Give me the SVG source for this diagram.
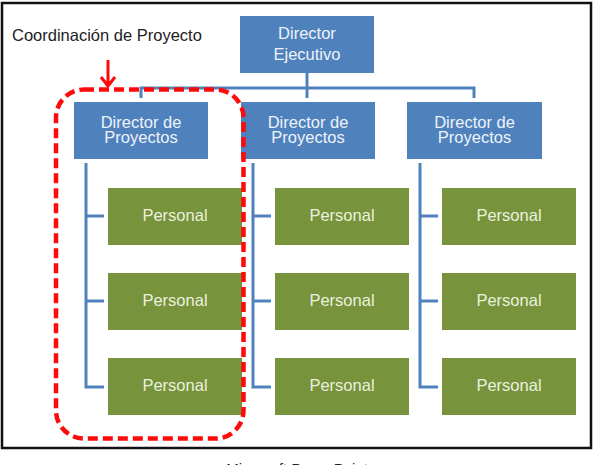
<svg xmlns="http://www.w3.org/2000/svg" width="599" height="465" viewBox="0 0 599 465">
<style>
.dir{fill:#4f81bd}
.per{fill:#77933c}
.t{font-family:"Liberation Sans",Arial,sans-serif;font-size:16.5px;text-anchor:middle}
.dt{fill:#eef3fa}
.pt{fill:#ebf1de}
.conn{fill:none;stroke:#4f81bd;stroke-width:3}
.red{fill:none;stroke:#ff0a0a;stroke-width:3}
</style>
<rect x="0" y="0" width="599" height="465" fill="#ffffff"/>
<rect x="2" y="3" width="589" height="445" fill="none" stroke="#111111" stroke-width="2.5"/>
<g id="connectors">
<path class="conn" d="M307,73 V98 M141,98 V88 H474 V98"/>
<path class="conn" d="M86,163 V387 H104 M86,216 H104 M86,301 H104"/>
<path class="conn" d="M253,163 V387 H271 M253,216 H271 M253,301 H271"/>
<path class="conn" d="M420,163 V387 H438 M420,216 H438 M420,301 H438"/>
</g>
<g id="director-ejecutivo">
<rect class="dir" x="240" y="16" width="134" height="57"/>
<text class="t dt" x="307" y="39">Director</text>
<text class="t dt" x="307" y="60">Ejecutivo</text>
</g>
<g id="director-proyectos-1">
<rect class="dir" x="74" y="102" width="134" height="57"/>
<text class="t dt" x="141" y="128">Director de</text>
<text class="t dt" x="141" y="143">Proyectos</text>
</g>
<g id="director-proyectos-2">
<rect class="dir" x="241" y="102" width="134" height="57"/>
<text class="t dt" x="308" y="128">Director de</text>
<text class="t dt" x="308" y="143">Proyectos</text>
</g>
<g id="director-proyectos-3">
<rect class="dir" x="407" y="102" width="135" height="57"/>
<text class="t dt" x="474.5" y="128">Director de</text>
<text class="t dt" x="474.5" y="143">Proyectos</text>
</g>
<g id="personal-1-1"><rect class="per" x="108" y="188" width="134" height="57"/><text class="t pt" x="175" y="221">Personal</text></g>
<g id="personal-1-2"><rect class="per" x="108" y="273" width="134" height="57"/><text class="t pt" x="175" y="306">Personal</text></g>
<g id="personal-1-3"><rect class="per" x="108" y="358" width="134" height="57"/><text class="t pt" x="175" y="391">Personal</text></g>
<g id="personal-2-1"><rect class="per" x="275" y="188" width="134" height="57"/><text class="t pt" x="342" y="221">Personal</text></g>
<g id="personal-2-2"><rect class="per" x="275" y="273" width="134" height="57"/><text class="t pt" x="342" y="306">Personal</text></g>
<g id="personal-2-3"><rect class="per" x="275" y="358" width="134" height="57"/><text class="t pt" x="342" y="391">Personal</text></g>
<g id="personal-3-1"><rect class="per" x="442" y="188" width="134" height="57"/><text class="t pt" x="509" y="221">Personal</text></g>
<g id="personal-3-2"><rect class="per" x="442" y="273" width="134" height="57"/><text class="t pt" x="509" y="306">Personal</text></g>
<g id="personal-3-3"><rect class="per" x="442" y="358" width="134" height="57"/><text class="t pt" x="509" y="391">Personal</text></g>
<g id="coordinacion">
<rect x="56" y="89.5" width="187.5" height="349" rx="28" ry="28" fill="none" stroke="#ff0a0a" stroke-width="4.5" stroke-dasharray="10 5"/>
<path class="red" d="M108,60 V86 M101,77 L108,86 L115,77"/>
<text x="12" y="41" font-family="'Liberation Sans',Arial,sans-serif" font-size="16.5" fill="#222222">Coordinación de Proyecto</text>
</g>
<text x="297" y="474" font-family="'Liberation Sans',Arial,sans-serif" font-size="15" fill="#222222" text-anchor="middle">Microsoft PowerPoint</text>
</svg>
